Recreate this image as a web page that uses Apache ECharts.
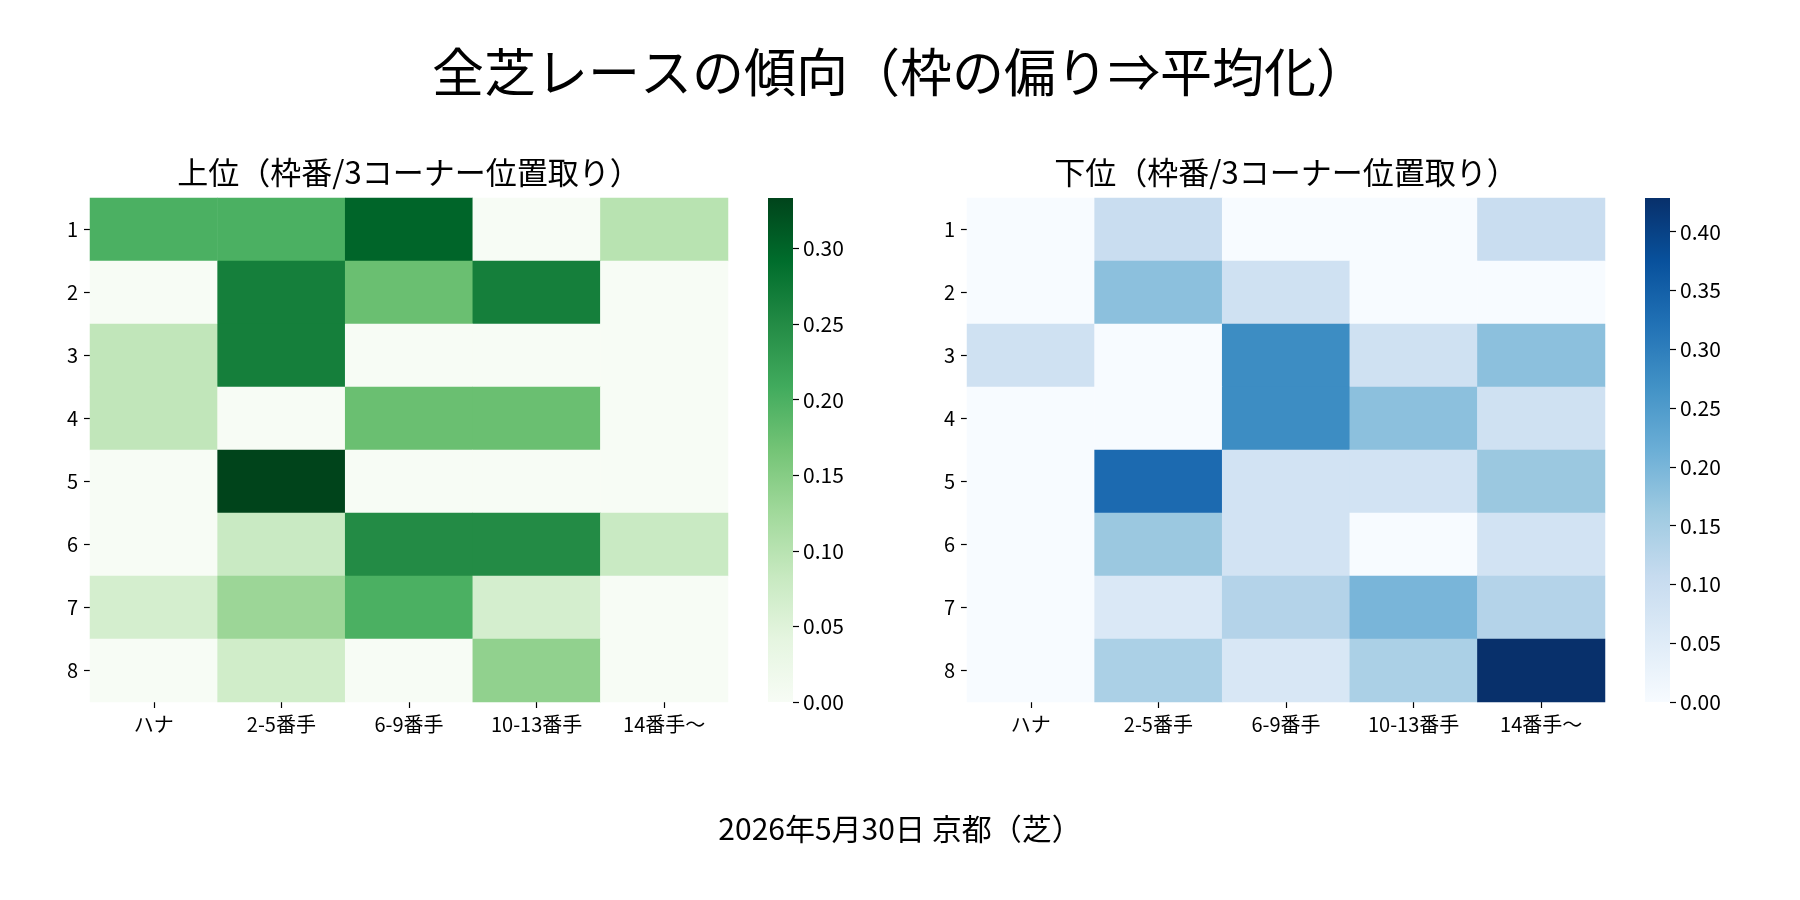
<!DOCTYPE html>
<html>
<head>
<meta charset="utf-8">
<script src="https://cdn.jsdelivr.net/npm/echarts@6/dist/echarts.min.js"></script>
<style>
  html, body { margin: 0; padding: 0; background: #fff; }
  #main { width: 1800px; height: 900px; }
</style>
</head>
<body>
<div id="main"></div>
<script>
// 軸ラベル
var xLabels = ['ハナ', '2-5番手', '6-9番手', '10-13番手', '14番手〜'];
var yLabels = ['1', '2', '3', '4', '5', '6', '7', '8'];

// 上位（枠番 x 3コーナー位置取り）
var topVals = [
    [0.20, 0.20, 0.30, 0.00, 0.10],
    [0.00, 0.267, 0.175, 0.267, 0.00],
    [0.09, 0.267, 0.00, 0.00, 0.00],
    [0.09, 0.00, 0.175, 0.175, 0.00],
    [0.00, 0.3333, 0.00, 0.00, 0.00],
    [0.00, 0.08, 0.25, 0.25, 0.08],
    [0.065, 0.13, 0.20, 0.065, 0.00],
    [0.00, 0.071, 0.00, 0.14, 0.00]
];

// 下位（枠番 x 3コーナー位置取り）
var bottomVals = [
    [0.00, 0.10, 0.00, 0.00, 0.10],
    [0.00, 0.18, 0.087, 0.00, 0.00],
    [0.087, 0.00, 0.276, 0.087, 0.18],
    [0.00, 0.00, 0.276, 0.18, 0.087],
    [0.00, 0.333, 0.08, 0.08, 0.164],
    [0.00, 0.164, 0.08, 0.00, 0.08],
    [0.00, 0.0625, 0.131, 0.20, 0.131],
    [0.00, 0.143, 0.067, 0.143, 0.4286]
];

// カラーバー目盛
var topCbTicks = [0, 0.05, 0.10, 0.15, 0.20, 0.25, 0.30];
var bottomCbTicks = [0, 0.05, 0.10, 0.15, 0.20, 0.25, 0.30, 0.35, 0.40];

var greens = ['#f7fcf5', '#e5f5e0', '#c7e9c0', '#a1d99b', '#74c476', '#41ab5d', '#238b45', '#006d2c', '#00441b'];
var blues = ['#f7fbff', '#deebf7', '#c6dbef', '#9ecae1', '#6baed6', '#4292c6', '#2171b5', '#08519c', '#08306b'];

var FONT = '"Noto Sans CJK JP", "Noto Sans", sans-serif';

function toCells(m) {
    var out = [];
    m.forEach(function (row, yi) {
        row.forEach(function (v, xi) {
            out.push([xi, yi, v]);
        });
    });
    return out;
}

function maxOf(m) {
    return Math.max.apply(null, m.map(function (r) { return Math.max.apply(null, r); }));
}

function gradient(colors) {
    var stops = colors.map(function (c, i) {
        return {offset: i / (colors.length - 1), color: c};
    });
    // 下から上へ
    return new echarts.graphic.LinearGradient(0, 1, 0, 0, stops);
}

var topMax = maxOf(topVals);
var bottomMax = maxOf(bottomVals);

function heatX(gi) {
    return {
        type: 'category', gridIndex: gi, data: xLabels,
        axisLine: {show: false},
        axisTick: {show: true, alignWithLabel: true, length: 6, lineStyle: {color: '#000', width: 1.2}},
        axisLabel: {color: '#000', fontSize: 20, fontFamily: FONT, margin: 12, interval: 0},
        splitLine: {show: false}
    };
}

function heatY(gi) {
    return {
        type: 'category', gridIndex: gi, data: yLabels, inverse: true,
        axisLine: {show: false},
        axisTick: {show: true, alignWithLabel: true, length: 6, lineStyle: {color: '#000', width: 1.2}},
        axisLabel: {color: '#000', fontSize: 20, fontFamily: FONT, margin: 12},
        splitLine: {show: false}
    };
}

function cbX(gi) {
    return {type: 'category', gridIndex: gi, data: ['cb'], show: false};
}

function cbY(gi, max, ticks) {
    return {
        type: 'value', gridIndex: gi, min: 0, max: max, position: 'right',
        axisLine: {show: false},
        axisTick: {show: true, length: 6, lineStyle: {color: '#000', width: 1.2}, customValues: ticks},
        axisLabel: {
            color: '#000', fontSize: 21, fontFamily: FONT, margin: 10, customValues: ticks,
            formatter: function (v) { return v.toFixed(2); }
        },
        splitLine: {show: false}
    };
}

var myChart = echarts.init(document.getElementById('main'));

var option = {
    backgroundColor: '#fff',
    animation: false,
    title: [
        {text: '全芝レースの傾向（枠の偏り⇒平均化）', left: 900, top: 46, textAlign: 'center', padding: 0,
            textStyle: {fontSize: 52, fontWeight: 'normal', color: '#000', fontFamily: FONT}},
        {text: '上位（枠番/3コーナー位置取り）', left: 409, top: 157, textAlign: 'center', padding: 0,
            textStyle: {fontSize: 31, fontWeight: 'normal', color: '#000', fontFamily: FONT}},
        {text: '下位（枠番/3コーナー位置取り）', left: 1286, top: 157, textAlign: 'center', padding: 0,
            textStyle: {fontSize: 31, fontWeight: 'normal', color: '#000', fontFamily: FONT}},
        {text: '2026年5月30日 京都（芝）', left: 900, top: 814, textAlign: 'center', padding: 0,
            textStyle: {fontSize: 30, fontWeight: 'normal', color: '#000', fontFamily: FONT}}
    ],
    grid: [
        {left: 90, top: 198, width: 638, height: 504},
        {left: 768, top: 198, width: 25, height: 504},
        {left: 967, top: 198, width: 638, height: 504},
        {left: 1645, top: 198, width: 25, height: 504}
    ],
    xAxis: [heatX(0), cbX(1), heatX(2), cbX(3)],
    yAxis: [heatY(0), cbY(1, topMax, topCbTicks), heatY(2), cbY(3, bottomMax, bottomCbTicks)],
    visualMap: [
        {type: 'continuous', show: false, seriesIndex: 0, min: 0, max: topMax, inRange: {color: greens}},
        {type: 'continuous', show: false, seriesIndex: 2, min: 0, max: bottomMax, inRange: {color: blues}}
    ],
    series: [
        {type: 'heatmap', xAxisIndex: 0, yAxisIndex: 0, data: toCells(topVals),
            itemStyle: {borderWidth: 0}, emphasis: {disabled: true}},
        {type: 'bar', xAxisIndex: 1, yAxisIndex: 1, data: [topMax], barWidth: '100%',
            itemStyle: {color: gradient(greens)}, silent: true},
        {type: 'heatmap', xAxisIndex: 2, yAxisIndex: 2, data: toCells(bottomVals),
            itemStyle: {borderWidth: 0}, emphasis: {disabled: true}},
        {type: 'bar', xAxisIndex: 3, yAxisIndex: 3, data: [bottomMax], barWidth: '100%',
            itemStyle: {color: gradient(blues)}, silent: true}
    ]
};

myChart.setOption(option);
</script>
</body>
</html>
